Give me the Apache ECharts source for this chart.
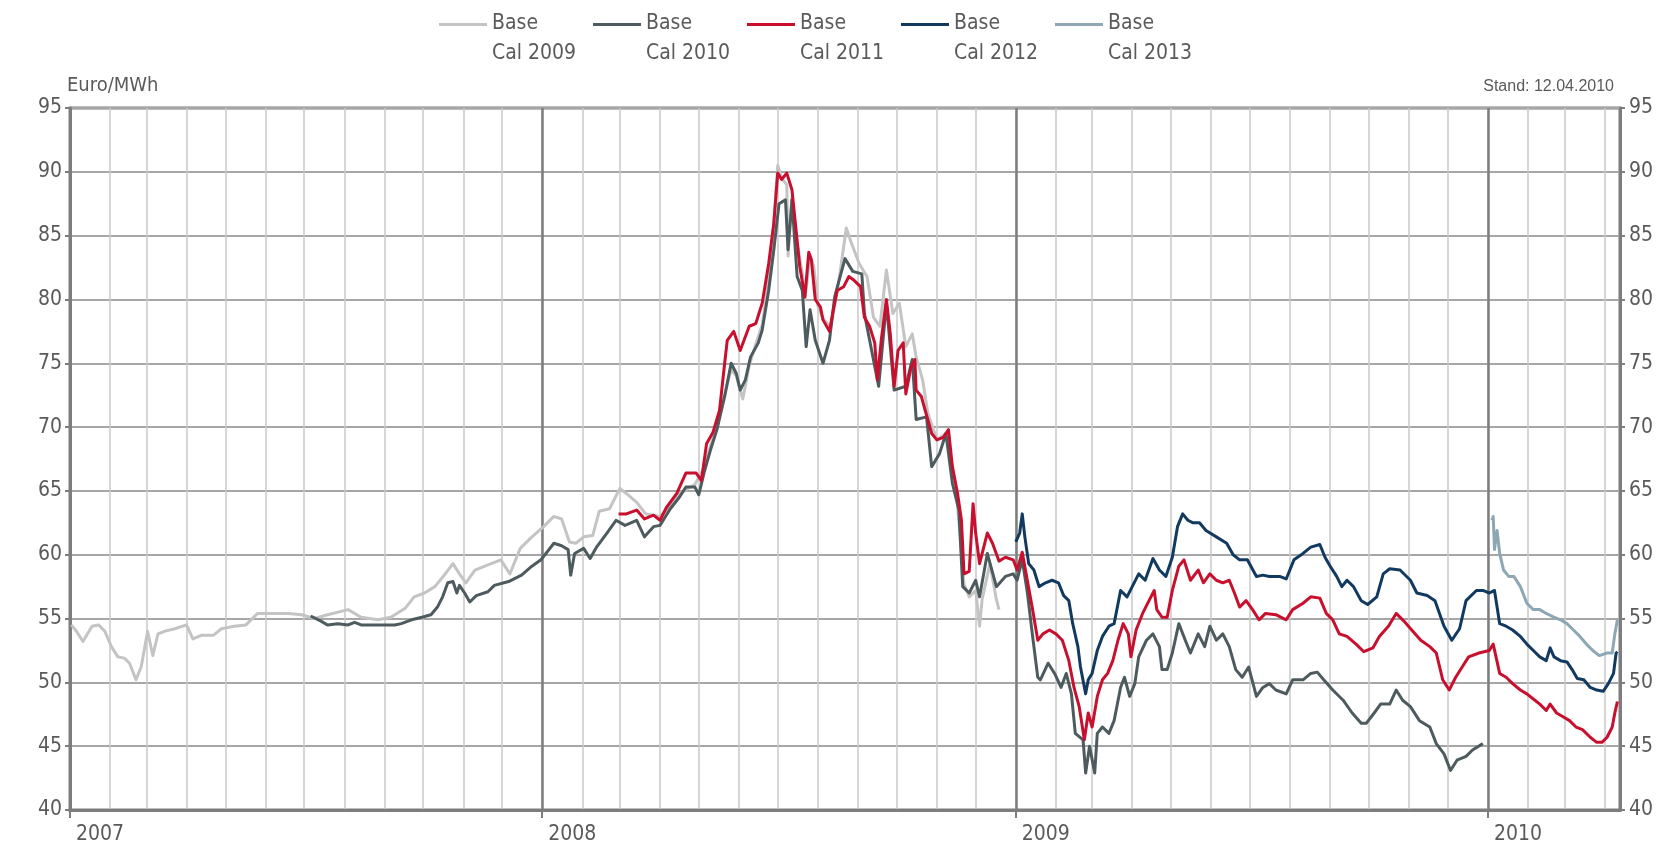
<!DOCTYPE html>
<html><head><meta charset="utf-8">
<script src="https://cdn.jsdelivr.net/npm/echarts@6/dist/echarts.min.js"></script>
<style>html,body{margin:0;padding:0;background:#fff}#c{width:1661px;height:861px}</style>
</head><body><div id="c"></div>
<script>
const seriesNames = ['Base Cal 2009', 'Base Cal 2010', 'Base Cal 2011', 'Base Cal 2012', 'Base Cal 2013'];
const yTicks = [40, 45, 50, 55, 60, 65, 70, 75, 80, 85, 90, 95];
const xStart = '2007-01-01';
const xEnd = '2010-04-13';
const unitLabel = 'Euro/MWh';
const standLabel = 'Stand: 12.04.2010';

const cal2009 = [
['2007-01-02',54.5],['2007-01-06',54.0],['2007-01-11',53.2],['2007-01-18',54.4],['2007-01-23',54.5],['2007-01-28',54.0],
['2007-02-02',52.8],['2007-02-07',52.0],['2007-02-12',51.9],['2007-02-16',51.5],['2007-02-21',50.2],['2007-02-25',51.2],
['2007-03-02',54.0],['2007-03-06',52.1],['2007-03-10',53.8],['2007-03-15',54.0],['2007-03-23',54.2],['2007-04-01',54.5],
['2007-04-06',53.4],['2007-04-13',53.7],['2007-04-22',53.7],['2007-04-28',54.2],['2007-05-08',54.4],['2007-05-17',54.5],
['2007-05-26',55.4],['2007-06-06',55.4],['2007-06-19',55.4],['2007-06-29',55.3],['2007-07-09',55.0],['2007-07-19',55.3],
['2007-08-04',55.7],['2007-08-14',55.1],['2007-08-27',54.9],['2007-09-06',55.1],['2007-09-17',55.8],['2007-09-24',56.7],
['2007-10-02',57.0],['2007-10-10',57.5],['2007-10-18',58.5],['2007-10-24',59.3],['2007-10-29',58.5],['2007-11-03',57.8],
['2007-11-10',58.8],['2007-11-20',59.2],['2007-11-30',59.6],['2007-12-07',58.5],['2007-12-15',60.5],['2007-12-23',61.3],
['2008-01-02',62.2],['2008-01-10',63.0],['2008-01-16',62.8],['2008-01-22',61.0],['2008-01-27',60.9],['2008-02-02',61.4],
['2008-02-09',61.5],['2008-02-14',63.4],['2008-02-22',63.6],['2008-03-01',65.2],['2008-03-06',64.8],['2008-03-14',64.1],
['2008-03-21',63.2],['2008-04-01',63.0],['2008-04-09',63.8],['2008-04-16',64.8],['2008-04-28',65.5],['2008-05-05',66.8],
['2008-05-10',68.5],['2008-05-15',70.0],['2008-05-21',72.6],['2008-05-26',74.5],['2008-05-30',74.0],['2008-06-04',72.2],
['2008-06-09',74.8],['2008-06-14',76.5],['2008-06-19',78.0],['2008-06-24',81.5],['2008-06-28',86.0],['2008-07-01',90.5],
['2008-07-04',89.5],['2008-07-08',89.0],['2008-07-09',83.4],['2008-07-12',88.0],['2008-07-16',84.5],['2008-07-20',82.0],
['2008-07-22',80.0],['2008-07-26',83.5],['2008-07-29',82.5],['2008-08-01',79.5],['2008-08-05',78.5],['2008-08-11',77.8],
['2008-08-14',79.5],['2008-08-18',82.0],['2008-08-23',85.6],['2008-08-27',84.4],['2008-09-02',82.8],['2008-09-08',81.8],
['2008-09-13',78.6],['2008-09-18',77.9],['2008-09-23',82.3],['2008-09-28',78.9],['2008-10-03',79.7],['2008-10-08',76.3],
['2008-10-13',77.3],['2008-10-16',75.5],['2008-10-21',73.7],['2008-10-25',71.1],['2008-11-01',69.0],['2008-11-08',69.5],
['2008-11-16',65.1],['2008-11-22',57.7],['2008-11-26',56.7],['2008-12-01',57.2],['2008-12-04',54.4],['2008-12-06',56.5],
['2008-12-12',59.3],['2008-12-17',56.5],['2008-12-19',55.7]
];

const cal2010 = [
['2007-07-06',55.2],['2007-07-14',54.8],['2007-07-19',54.5],['2007-07-27',54.6],['2007-08-04',54.5],['2007-08-09',54.7],
['2007-08-14',54.5],['2007-08-27',54.5],['2007-09-09',54.5],['2007-09-14',54.6],['2007-09-22',54.9],['2007-09-30',55.1],
['2007-10-07',55.3],['2007-10-12',55.9],['2007-10-16',56.7],['2007-10-20',57.8],['2007-10-24',57.9],['2007-10-27',57.0],
['2007-10-29',57.6],['2007-11-02',57.0],['2007-11-06',56.3],['2007-11-11',56.8],['2007-11-20',57.1],['2007-11-25',57.6],
['2007-12-06',57.9],['2007-12-16',58.4],['2007-12-24',59.1],['2007-12-31',59.6],['2008-01-10',60.9],['2008-01-16',60.7],
['2008-01-21',60.4],['2008-01-23',58.4],['2008-01-26',60.1],['2008-02-02',60.5],['2008-02-07',59.7],['2008-02-12',60.6],
['2008-02-20',61.7],['2008-02-27',62.7],['2008-03-05',62.3],['2008-03-14',62.7],['2008-03-20',61.4],['2008-03-27',62.2],
['2008-04-01',62.3],['2008-04-09',63.6],['2008-04-16',64.5],['2008-04-21',65.3],['2008-04-28',65.3],['2008-05-01',64.7],
['2008-05-05',66.4],['2008-05-10',68.2],['2008-05-15',69.8],['2008-05-21',72.4],['2008-05-26',75.0],['2008-05-30',74.2],
['2008-06-02',72.9],['2008-06-06',73.7],['2008-06-10',75.5],['2008-06-16',76.6],['2008-06-19',77.6],['2008-06-24',80.7],
['2008-06-28',83.9],['2008-07-02',87.5],['2008-07-07',87.8],['2008-07-09',83.9],['2008-07-12',87.8],['2008-07-16',81.8],
['2008-07-20',80.7],['2008-07-23',76.3],['2008-07-26',79.2],['2008-07-30',76.8],['2008-08-05',75.0],['2008-08-10',76.8],
['2008-08-14',80.2],['2008-08-22',83.2],['2008-08-28',82.2],['2008-09-04',82.0],['2008-09-06',78.9],['2008-09-17',73.2],
['2008-09-23',79.7],['2008-09-29',72.9],['2008-10-08',73.2],['2008-10-13',75.3],['2008-10-16',70.6],['2008-10-24',70.8],
['2008-10-28',66.9],['2008-11-03',67.9],['2008-11-08',69.5],['2008-11-13',65.6],['2008-11-18',63.5],['2008-11-21',57.5],
['2008-11-26',57.0],['2008-12-01',58.0],['2008-12-04',56.7],['2008-12-10',60.1],['2008-12-17',57.5],['2008-12-24',58.3],
['2008-12-30',58.5],['2009-01-02',58.0],['2009-01-06',59.6],['2009-01-10',57.0],['2009-01-14',53.6],['2009-01-18',50.4],
['2009-01-20',50.2],['2009-01-26',51.5],['2009-01-31',50.7],['2009-02-05',49.6],['2009-02-09',50.7],['2009-02-13',49.1],
['2009-02-16',46.0],['2009-02-22',45.5],['2009-02-24',42.9],['2009-02-27',45.0],['2009-03-03',42.9],['2009-03-05',46.0],
['2009-03-09',46.5],['2009-03-14',46.0],['2009-03-18',47.0],['2009-03-23',49.6],['2009-03-26',50.4],['2009-03-30',48.9],
['2009-04-03',49.9],['2009-04-06',52.0],['2009-04-12',53.3],['2009-04-17',53.8],['2009-04-22',52.8],['2009-04-24',51.0],
['2009-04-28',51.0],['2009-05-02',52.3],['2009-05-07',54.6],['2009-05-12',53.3],['2009-05-16',52.3],['2009-05-22',53.8],
['2009-05-27',52.8],['2009-05-31',54.4],['2009-06-05',53.3],['2009-06-10',53.8],['2009-06-15',52.8],['2009-06-20',51.0],
['2009-06-25',50.4],['2009-06-30',51.2],['2009-07-06',48.9],['2009-07-11',49.6],['2009-07-16',49.9],['2009-07-21',49.4],
['2009-07-29',49.1],['2009-08-03',50.2],['2009-08-11',50.2],['2009-08-17',50.7],['2009-08-22',50.8],['2009-08-27',50.2],
['2009-09-03',49.4],['2009-09-11',48.6],['2009-09-18',47.6],['2009-09-25',46.8],['2009-09-29',46.8],['2009-10-05',47.6],
['2009-10-10',48.3],['2009-10-17',48.3],['2009-10-22',49.4],['2009-10-27',48.6],['2009-11-02',48.1],['2009-11-09',47.0],
['2009-11-17',46.5],['2009-11-22',45.2],['2009-11-28',44.4],['2009-12-03',43.1],['2009-12-08',43.9],['2009-12-15',44.2],
['2009-12-20',44.7],['2009-12-28',45.2]
];

const cal2011 = [
['2008-02-29',63.2],['2008-03-06',63.2],['2008-03-14',63.5],['2008-03-20',62.8],['2008-03-27',63.1],['2008-04-01',62.7],
['2008-04-06',63.7],['2008-04-14',64.8],['2008-04-21',66.4],['2008-04-29',66.4],['2008-05-03',65.8],['2008-05-07',68.7],
['2008-05-12',69.6],['2008-05-17',71.3],['2008-05-21',75.0],['2008-05-23',76.8],['2008-05-28',77.5],['2008-06-02',76.0],
['2008-06-09',77.9],['2008-06-14',78.1],['2008-06-19',79.7],['2008-06-24',82.8],['2008-06-28',86.0],['2008-07-01',89.9],
['2008-07-04',89.4],['2008-07-08',89.9],['2008-07-12',88.6],['2008-07-16',84.6],['2008-07-18',82.6],['2008-07-22',80.2],
['2008-07-25',83.7],['2008-07-27',83.1],['2008-07-30',80.0],['2008-08-03',79.4],['2008-08-05',78.4],['2008-08-10',77.5],
['2008-08-13',79.2],['2008-08-16',80.7],['2008-08-21',81.0],['2008-08-25',81.8],['2008-08-29',81.5],['2008-09-03',81.0],
['2008-09-06',78.6],['2008-09-10',77.9],['2008-09-14',76.6],['2008-09-16',73.7],['2008-09-19',76.8],['2008-09-23',80.0],
['2008-09-26',77.3],['2008-09-29',73.2],['2008-10-02',76.0],['2008-10-06',76.6],['2008-10-08',72.6],['2008-10-12',74.7],
['2008-10-15',75.3],['2008-10-16',72.9],['2008-10-20',72.4],['2008-10-23',71.3],['2008-10-28',69.5],['2008-11-01',69.0],
['2008-11-06',69.2],['2008-11-10',69.8],['2008-11-13',66.9],['2008-11-17',64.8],['2008-11-20',62.7],['2008-11-22',58.5],
['2008-11-26',58.7],['2008-11-29',64.0],['2008-12-01',61.7],['2008-12-04',59.3],['2008-12-10',61.7],['2008-12-14',60.9],
['2008-12-19',59.5],['2008-12-24',59.8],['2008-12-30',59.6],['2009-01-02',58.8],['2009-01-06',60.2],['2009-01-09',58.5],
['2009-01-14',55.7],['2009-01-18',53.3],['2009-01-22',53.8],['2009-01-27',54.1],['2009-02-01',53.8],['2009-02-06',53.3],
['2009-02-11',51.7],['2009-02-15',49.6],['2009-02-19',48.1],['2009-02-23',45.5],['2009-02-26',47.6],['2009-03-01',46.5],
['2009-03-05',48.9],['2009-03-09',50.2],['2009-03-13',50.7],['2009-03-17',51.7],['2009-03-21',53.3],['2009-03-25',54.6],
['2009-03-29',53.8],['2009-03-31',52.0],['2009-04-04',54.1],['2009-04-09',55.4],['2009-04-14',56.4],['2009-04-18',57.2],
['2009-04-20',55.7],['2009-04-24',55.1],['2009-04-28',55.1],['2009-05-02',57.2],['2009-05-07',59.1],['2009-05-11',59.6],
['2009-05-16',58.0],['2009-05-22',58.8],['2009-05-26',57.8],['2009-05-31',58.5],['2009-06-05',58.0],['2009-06-10',57.8],
['2009-06-15',58.0],['2009-06-19',57.0],['2009-06-23',55.9],['2009-06-28',56.4],['2009-07-03',55.7],['2009-07-08',54.9],
['2009-07-13',55.4],['2009-07-21',55.3],['2009-07-29',54.9],['2009-08-03',55.7],['2009-08-11',56.2],['2009-08-17',56.7],
['2009-08-24',56.6],['2009-08-29',55.4],['2009-09-03',54.9],['2009-09-08',53.8],['2009-09-14',53.6],['2009-09-21',53.0],
['2009-09-27',52.4],['2009-10-04',52.7],['2009-10-09',53.6],['2009-10-16',54.4],['2009-10-22',55.4],['2009-10-28',54.8],
['2009-11-03',54.1],['2009-11-10',53.3],['2009-11-17',52.8],['2009-11-22',52.3],['2009-11-27',50.2],['2009-12-02',49.4],
['2009-12-07',50.4],['2009-12-12',51.2],['2009-12-17',52.0],['2009-12-25',52.3],['2010-01-02',52.5],['2010-01-05',53.0],
['2010-01-10',50.7],['2010-01-15',50.4],['2010-01-20',49.9],['2010-01-26',49.4],['2010-01-31',49.1],['2010-02-05',48.7],
['2010-02-10',48.3],['2010-02-15',47.8],['2010-02-18',48.3],['2010-02-23',47.6],['2010-02-28',47.3],['2010-03-05',47.0],
['2010-03-10',46.5],['2010-03-15',46.3],['2010-03-21',45.7],['2010-03-26',45.3],['2010-03-30',45.3],['2010-04-03',45.7],
['2010-04-07',46.5],['2010-04-09',47.6],['2010-04-11',48.5]
];

const cal2012 = [
['2009-01-01',61.0],['2009-01-04',61.7],['2009-01-06',63.2],['2009-01-08',61.4],['2009-01-11',59.3],['2009-01-15',58.8],
['2009-01-19',57.5],['2009-01-24',57.8],['2009-01-29',58.0],['2009-02-03',57.8],['2009-02-07',56.8],['2009-02-11',56.4],
['2009-02-14',54.6],['2009-02-18',52.8],['2009-02-20',51.2],['2009-02-24',49.1],['2009-02-26',50.2],['2009-03-01',50.7],
['2009-03-05',52.5],['2009-03-09',53.6],['2009-03-14',54.4],['2009-03-18',54.6],['2009-03-23',57.2],['2009-03-28',56.7],
['2009-04-01',57.5],['2009-04-06',58.5],['2009-04-11',58.0],['2009-04-17',59.7],['2009-04-22',58.8],['2009-04-27',58.3],
['2009-05-02',59.8],['2009-05-06',62.2],['2009-05-10',63.2],['2009-05-14',62.7],['2009-05-18',62.5],['2009-05-23',62.5],
['2009-05-28',61.9],['2009-06-05',61.4],['2009-06-13',60.9],['2009-06-18',60.0],['2009-06-23',59.6],['2009-06-29',59.6],
['2009-07-06',58.3],['2009-07-11',58.4],['2009-07-16',58.3],['2009-07-24',58.3],['2009-07-29',58.1],['2009-08-04',59.6],
['2009-08-11',60.1],['2009-08-17',60.6],['2009-08-24',60.8],['2009-08-28',59.8],['2009-09-01',59.1],['2009-09-06',58.3],
['2009-09-10',57.5],['2009-09-14',58.0],['2009-09-19',57.5],['2009-09-25',56.4],['2009-09-30',56.1],['2009-10-07',56.7],
['2009-10-12',58.5],['2009-10-17',58.9],['2009-10-25',58.8],['2009-11-02',58.0],['2009-11-07',57.0],['2009-11-15',56.8],
['2009-11-21',56.4],['2009-11-28',54.4],['2009-12-04',53.3],['2009-12-10',54.2],['2009-12-15',56.4],['2009-12-23',57.2],
['2009-12-28',57.2],['2010-01-02',57.0],['2010-01-06',57.2],['2010-01-10',54.6],['2010-01-15',54.4],['2010-01-20',54.1],
['2010-01-26',53.6],['2010-01-31',53.0],['2010-02-05',52.5],['2010-02-10',52.0],['2010-02-15',51.7],['2010-02-18',52.7],
['2010-02-21',52.0],['2010-02-26',51.7],['2010-03-03',51.6],['2010-03-07',51.0],['2010-03-11',50.3],['2010-03-16',50.2],
['2010-03-21',49.6],['2010-03-26',49.4],['2010-03-31',49.3],['2010-04-04',49.9],['2010-04-08',50.7],['2010-04-10',52.3],
['2010-04-11',52.4]
];

const cal2013 = [
['2010-01-04',62.7],['2010-01-05',63.0],['2010-01-06',60.4],['2010-01-08',61.9],['2010-01-10',60.1],['2010-01-13',58.8],
['2010-01-17',58.3],['2010-01-21',58.3],['2010-01-26',57.5],['2010-01-31',56.2],['2010-02-05',55.7],['2010-02-10',55.7],
['2010-02-15',55.4],['2010-02-21',55.1],['2010-02-26',54.9],['2010-03-03',54.6],['2010-03-08',54.1],['2010-03-13',53.6],
['2010-03-18',53.0],['2010-03-23',52.5],['2010-03-28',52.1],['2010-04-03',52.3],['2010-04-07',52.3],['2010-04-09',53.8],
['2010-04-11',54.9]
];

const seriesData = [cal2009, cal2010, cal2011, cal2012, cal2013];
const colors = ['#c4c4c4', '#4d5b5e', '#c8102e', '#123a60', '#8ea7b5'];

const DAY = 86400000;
const font = "'Liberation Sans Narrow','DejaVu Sans Condensed','Roboto Condensed',sans-serif";
const txt = '#5a5a5a';
const chart = echarts.init(document.getElementById('c'), null, {renderer: 'canvas'});

const legendIcon = 'path://M0,0H0.1V0.1H0Z M0,14H48V17H0Z M0,59.9H0.1V60H0Z';

chart.setOption({
  animation: false,
  backgroundColor: '#ffffff',
  color: colors,
  title: [
    {text: unitLabel, left: 62, top: 71, textStyle: {fontFamily: font, fontSize: 20, fontWeight: 'normal', color: txt}},
    {text: standLabel, right: 42, top: 74, textStyle: {fontFamily: "'Liberation Sans',Arial,sans-serif", fontSize: 16, fontWeight: 'normal', color: txt}}
  ],
  legend: {
    left: 434, top: 4,
    itemWidth: 48, itemHeight: 60, itemGap: 5,
    icon: legendIcon,
    formatter: n => n.replace(' Cal', '\nCal'),
    textStyle: {fontFamily: font, fontSize: 21, lineHeight: 30, color: txt, width: 96},
    data: seriesNames
  },
  grid: {left: 70, right: 41, top: 108, bottom: 51, show: true, borderColor: '#7d7d7d', borderWidth: 3, backgroundColor: 'transparent'},
  xAxis: [
    {
      type: 'time', min: xStart, max: xEnd,
      minInterval: 28 * DAY, maxInterval: 31 * DAY,
      axisLine: {show: false}, axisTick: {show: false}, axisLabel: {show: false},
      splitLine: {show: true, lineStyle: {color: '#c8c8c8', width: 1.5}}
    },
    {
      type: 'time', min: xStart, max: xEnd, position: 'bottom',
      minInterval: 365 * DAY, maxInterval: 366 * DAY,
      axisLine: {show: true, lineStyle: {color: '#7d7d7d', width: 3}},
      axisTick: {show: true, length: 8, lineStyle: {color: '#7d7d7d', width: 2}},
      axisLabel: {show: true, showMinLabel: true, showMaxLabel: false, formatter: v => String(new Date(v).getFullYear()),
        align: 'left', margin: 14, padding: [0, 0, 0, 6], fontFamily: font, fontSize: 21, color: txt},
      splitLine: {show: true, lineStyle: {color: '#7d7d7d', width: 2.5}}
    }
  ],
  yAxis: [
    {
      type: 'value', min: 40, max: 95, interval: 5, position: 'left',
      axisLine: {show: true, lineStyle: {color: '#7d7d7d', width: 3}},
      axisTick: {show: true, length: 5, lineStyle: {color: '#7d7d7d', width: 2}},
      axisLabel: {fontFamily: font, fontSize: 21, color: txt, margin: 8, formatter: v => yTicks.includes(v) ? String(v) : ''},
      splitLine: {show: true, lineStyle: {color: '#a6a6a6', width: 2}}
    },
    {
      type: 'value', min: 40, max: 95, interval: 5, position: 'right',
      axisLine: {show: true, lineStyle: {color: '#7d7d7d', width: 3}},
      axisTick: {show: true, length: 5, lineStyle: {color: '#7d7d7d', width: 2}},
      axisLabel: {fontFamily: font, fontSize: 21, color: txt, margin: 9, formatter: v => yTicks.includes(v) ? String(v) : ''},
      splitLine: {show: false}
    }
  ],
  series: seriesNames.map((name, i) => ({
    name, type: 'line', xAxisIndex: 0, yAxisIndex: 0,
    data: seriesData[i], showSymbol: false, symbol: 'none',
    lineStyle: {width: 3, color: colors[i], join: 'round'}, itemStyle: {color: colors[i]},
    z: 3 + i
  }))
});
</script></body></html>
